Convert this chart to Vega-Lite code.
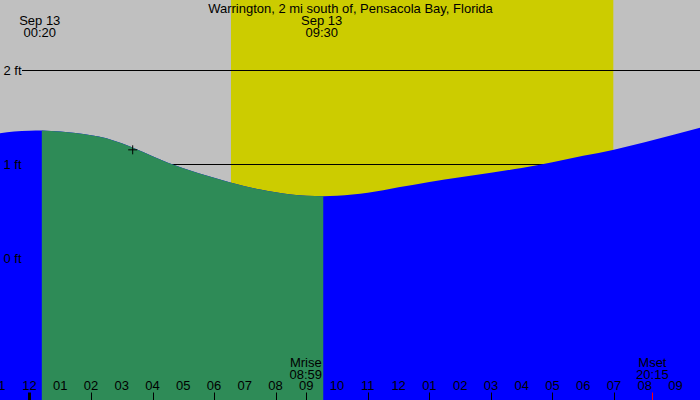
{
  "$schema": "https://vega.github.io/schema/vega-lite/v6.json",
  "width": 700,
  "height": 400,
  "autosize": {"type": "none"},
  "padding": 0,
  "background": "#c0c0c0",
  "config": {"view": {"stroke": null, "fill": "#c0c0c0"}, "font": "Liberation Sans"},
  "datasets": {
    "tide": [
      {"t": -0.96, "h": 1.333}, {"t": -0.5, "h": 1.35}, {"t": 0.0, "h": 1.359}, {"t": 0.4, "h": 1.362},
      {"t": 1.0, "h": 1.35}, {"t": 1.5, "h": 1.335}, {"t": 2.0, "h": 1.312}, {"t": 2.5, "h": 1.28},
      {"t": 3.0, "h": 1.225}, {"t": 3.5, "h": 1.16}, {"t": 4.0, "h": 1.088}, {"t": 4.5, "h": 1.018},
      {"t": 5.0, "h": 0.96}, {"t": 5.5, "h": 0.908}, {"t": 6.0, "h": 0.858}, {"t": 6.5, "h": 0.81},
      {"t": 7.0, "h": 0.768}, {"t": 7.5, "h": 0.733}, {"t": 8.0, "h": 0.705}, {"t": 8.5, "h": 0.681},
      {"t": 9.0, "h": 0.668}, {"t": 9.55, "h": 0.663}, {"t": 10.0, "h": 0.668}, {"t": 10.5, "h": 0.682},
      {"t": 11.0, "h": 0.7}, {"t": 11.5, "h": 0.725}, {"t": 12.0, "h": 0.757}, {"t": 13.0, "h": 0.815},
      {"t": 14.0, "h": 0.865}, {"t": 15.0, "h": 0.913}, {"t": 16.0, "h": 0.963}, {"t": 17.0, "h": 1.025},
      {"t": 18.0, "h": 1.092}, {"t": 19.0, "h": 1.158}, {"t": 20.0, "h": 1.238}, {"t": 21.0, "h": 1.322},
      {"t": 21.8, "h": 1.391}
    ],
    "day": [{"t": 6.55, "t2": 18.98}],
    "levels": [{"h": 0}, {"h": 1}, {"h": 2}],
    "marker": [{"t": 3.355, "h": 1.156}],
    "hours": [
      {"t": -1, "lab": "11"}, {"t": 0, "lab": "12"}, {"t": 1, "lab": "01"}, {"t": 2, "lab": "02"},
      {"t": 3, "lab": "03"}, {"t": 4, "lab": "04"}, {"t": 5, "lab": "05"}, {"t": 6, "lab": "06"},
      {"t": 7, "lab": "07"}, {"t": 8, "lab": "08"}, {"t": 9, "lab": "09"}, {"t": 10, "lab": "10"},
      {"t": 11, "lab": "11"}, {"t": 12, "lab": "12"}, {"t": 13, "lab": "01"}, {"t": 14, "lab": "02"},
      {"t": 15, "lab": "03"}, {"t": 16, "lab": "04"}, {"t": 17, "lab": "05"}, {"t": 18, "lab": "06"},
      {"t": 19, "lab": "07"}, {"t": 20, "lab": "08"}, {"t": 21, "lab": "09"}
    ],
    "labels": [
      {"t": 10.435, "h": 2.617, "text": "Warrington, 2 mi south of, Pensacola Bay, Florida"},
      {"t": 0.333, "h": 2.489, "text": "Sep 13\n00:20"},
      {"t": 9.5, "h": 2.489, "text": "Sep 13\n09:30"},
      {"t": 8.983, "h": -1.149, "text": "Mrise\n08:59"},
      {"t": 20.25, "h": -1.149, "text": "Mset\n20:15"}
    ]
  },
  "layer": [
    {
      "data": {"name": "day"},
      "mark": {"type": "rect", "color": "#cccc00"},
      "encoding": {
        "x": {"field": "t", "type": "quantitative", "title": null},
        "x2": {"field": "t2"}
      }
    },
    {
      "data": {"name": "levels"},
      "mark": {"type": "rule", "color": "black", "strokeWidth": 1},
      "encoding": {
        "x": {"datum": -0.244},
        "x2": {"datum": 21.9},
        "y": {"field": "h", "type": "quantitative", "title": null}
      }
    },
    {
      "data": {"name": "tide"},
      "mark": {"type": "area", "color": "#0000ff", "interpolate": "monotone", "clip": true},
      "encoding": {
        "x": {
          "field": "t", "type": "quantitative", "title": null,
          "scale": {"domain": [-0.959, 21.798], "nice": false, "zero": false},
          "axis": {
            "orient": "bottom",
            "values": [-1, 0, 1, 2, 3, 4, 5, 6, 7, 8, 9, 10, 11, 12, 13, 14, 15, 16, 17, 18, 19, 20, 21, 8.983, 20.25],
            "labels": false,
            "tickSize": -8,
            "tickColor": {"condition": {"test": "datum.value == 8.983 || datum.value == 20.25", "value": "#ff0000"}, "value": "black"},
            "tickWidth": {"condition": {"test": "datum.value == 0", "value": 3}, "value": 1},
            "domain": false,
            "grid": false,
            "title": null,
            "zindex": 1
          }
        },
        "y": {
          "field": "h", "type": "quantitative", "title": null,
          "scale": {"domain": [-1.5053, 2.75], "nice": false, "zero": false},
          "axis": {
            "orient": "left",
            "values": [0, 1, 2],
            "labelExpr": "datum.value + ' ft'",
            "ticks": false,
            "domain": false,
            "grid": false,
            "labelAlign": "left",
            "labelBaseline": "middle",
            "labelPadding": -3,
            "labelFontSize": 13,
            "labelFont": "Liberation Sans",
            "labelColor": "black",
            "labelFlush": false,
            "labelOverlap": false,
            "labelBound": false,
            "title": null,
            "zindex": 1
          }
        },
        "y2": {"datum": -1.6}
      }
    },
    {
      "data": {"name": "tide"},
      "transform": [{"filter": "datum.t >= 0.4 && datum.t <= 9.55"}],
      "mark": {"type": "area", "color": "#2e8b57", "interpolate": "monotone", "clip": true},
      "encoding": {
        "x": {"field": "t", "type": "quantitative", "title": null},
        "y": {"field": "h", "type": "quantitative", "title": null},
        "y2": {"datum": -1.6}
      }
    },
    {
      "data": {"name": "marker"},
      "mark": {"type": "point", "shape": "M-1,0H1M0,-1V1", "size": 81, "filled": false, "stroke": "black", "strokeWidth": 1, "opacity": 1},
      "encoding": {
        "x": {"field": "t", "type": "quantitative", "title": null},
        "y": {"field": "h", "type": "quantitative", "title": null}
      }
    },
    {
      "data": {"name": "hours"},
      "mark": {"type": "text", "align": "center", "baseline": "alphabetic", "fontSize": 13, "font": "Liberation Sans", "color": "black"},
      "encoding": {
        "x": {"field": "t", "type": "quantitative", "title": null},
        "y": {"datum": -1.404},
        "text": {"field": "lab"}
      }
    },
    {
      "data": {"name": "labels"},
      "mark": {"type": "text", "align": "center", "baseline": "alphabetic", "lineBreak": "\n", "lineHeight": 12, "fontSize": 13, "font": "Liberation Sans", "color": "black"},
      "encoding": {
        "x": {"field": "t", "type": "quantitative", "title": null},
        "y": {"field": "h", "type": "quantitative", "title": null},
        "text": {"field": "text"}
      }
    }
  ]
}
